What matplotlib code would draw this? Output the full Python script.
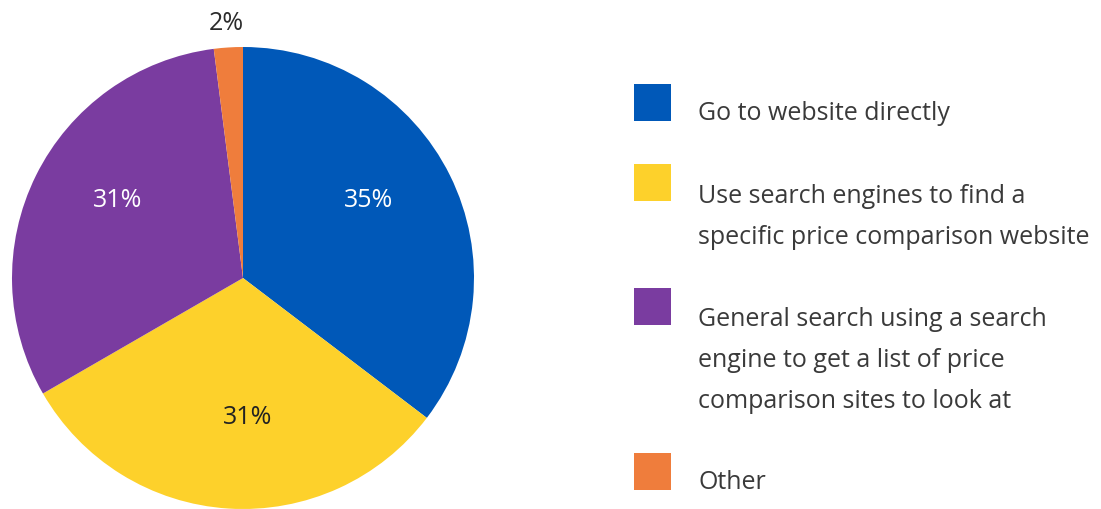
import matplotlib
import matplotlib.pyplot as plt
import numpy as np
from matplotlib.patches import Rectangle

matplotlib.use('agg')

plt.rcParams['font.family'] = ['Open Sans', 'DejaVu Sans']

categories = [
    "Go to website directly",
    "Use search engines to find a\nspecific price comparison website",
    "General search using a search\nengine to get a list of price\ncomparison sites to look at",
    "Other",
]
shares = [35, 31, 31, 2]
colors = ['#0058b8', '#fdd12b', '#7a3ca0', '#ef7d3c']
label_colors = ['white', '#222222', 'white', '#2b2b2b']
text_color = '#3a3a3a'

# small hand nudges for the percentage labels (degrees, radius fraction)
label_turn = [5.5, 5.5, -5.8, 0]
label_dist = [0.64, 0.60, 0.64, 1.11]

W, H = 1101, 510
fig = plt.figure(figsize=(W / 100, H / 100), dpi=100)

# pie occupies a square region on the left: centre (243, 279), radius 231 px
cx, cy, r = 243, 279, 231
ax = fig.add_axes([(cx - r) / W, (H - cy - r) / H, 2 * r / W, 2 * r / H])
wedges, texts = ax.pie(shares, colors=colors, startangle=90, counterclock=False,
                       wedgeprops={'linewidth': 0})
ax.set_xlim(-1, 1)
ax.set_ylim(-1, 1)
ax.set_aspect('equal')
ax.axis('off')

for i, (w, val) in enumerate(zip(wedges, shares)):
    mid = np.deg2rad((w.theta1 + w.theta2) / 2 + label_turn[i])
    dist = label_dist[i]
    ax.text(dist * np.cos(mid), dist * np.sin(mid), '{0}%'.format(val),
            ha='center', va='center', fontsize=18, color=label_colors[i],
            clip_on=False)

# legend on the right
box_tops = [85, 165, 289, 454]
text_tops = [113, 197, 320, 483]
line_gap = 41
for top, ttop, col, label in zip(box_tops, text_tops, colors, categories):
    fig.add_artist(Rectangle((634 / W, (H - top - 37) / H), 37 / W, 37 / H,
                             transform=fig.transFigure, facecolor=col,
                             edgecolor='none'))
    for j, line in enumerate(label.split('\n')):
        fig.text(698 / W, (H - ttop - j * line_gap) / H, line, ha='left',
                 va='center', fontsize=18, color=text_color)

fig.savefig('out.png', dpi=100, facecolor='white')
plt.close()
